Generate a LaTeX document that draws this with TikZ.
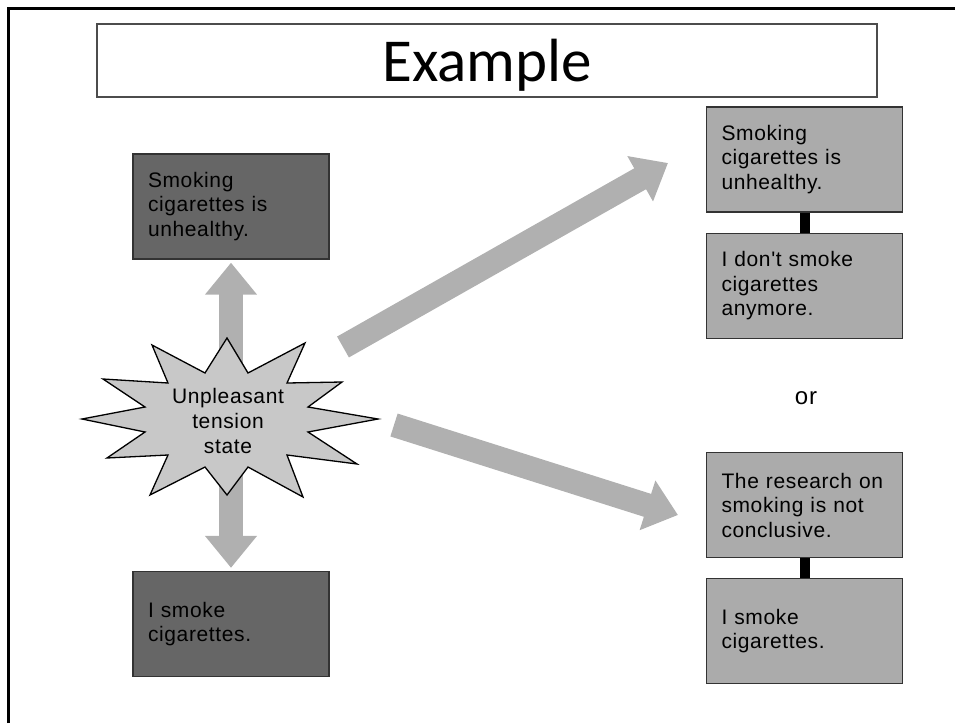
\documentclass[tikz,border=0pt]{standalone}
\usepackage{fontspec}
\setmainfont{Liberation Sans}
\newfontfamily\titlefont{Carlito}
\newfontfamily\boxfont[LetterSpace=3]{Liberation Sans}
\usetikzlibrary{arrows.meta,positioning}
\definecolor{darkbox}{HTML}{666666}
\definecolor{lightbox}{HTML}{ABABAB}
\definecolor{arrowgrey}{HTML}{B0B0B0}
\definecolor{stargrey}{HTML}{C8C8C8}
\tikzset{
  thought/.style={draw=black!80, line width=1.3pt, minimum width=196pt, minimum height=105pt,
    text width=166pt, inner xsep=15pt, inner ysep=0pt, align=left,
    font=\boxfont\fontsize{21}{24.5}\selectfont},
  bigarrow/.style={arrowgrey, line width=24pt, -{Triangle[length=32pt,width=50pt]}},
  link/.style={black, line width=10pt}
}
\begin{document}
\begin{tikzpicture}[x=1pt,y=-1pt]
\useasboundingbox (0,0) rectangle (955,723);
\draw[line width=3pt] (8,723) -- (8,8) -- (955,8);

\node[draw=black!70, line width=1.2pt, minimum width=780pt, minimum height=73pt, text depth=0pt,
  font=\titlefont\fontsize{61}{61}\selectfont] (title) at (487,60.5) {Example};

\node[thought, fill=darkbox] (healthL) at (231,206.5) {Smoking\\cigarettes is\\unhealthy.};
\node[thought, fill=darkbox] (smokeL) at (231,624) {I smoke\\cigarettes.};

\node[thought, fill=lightbox] (healthR) at (804.5,159.5) {Smoking\\cigarettes is\\unhealthy.};
\node[thought, fill=lightbox, below=20pt of healthR] (quit) {I don't smoke\\cigarettes\\anymore.};
\node[thought, fill=lightbox] (research) at (804.5,505) {The research on\\smoking is not\\conclusive.};
\node[thought, fill=lightbox, below=20pt of research] (smokeR) {I smoke\\cigarettes.};

\draw[link] (healthR) -- (quit);
\draw[link] (research) -- (smokeR);

\node[font=\boxfont\fontsize{24}{24}\selectfont] (or) at (806,398) {or};

\coordinate (core) at (231,418);
\coordinate (upfrom) at (343,347);
\coordinate (upto) at (668,163);
\coordinate (downfrom) at (394,425);
\coordinate (downto) at (678,515);

\draw[bigarrow, shorten >=3pt] (core) -- (healthL.south);
\draw[bigarrow, shorten >=3pt] (core) -- (smokeL.north);
\draw[bigarrow] (upfrom) -- (upto);
\draw[bigarrow] (downfrom) -- (downto);

\draw[fill=stargrey, line width=1.3pt] (152,345) -- (205,373) -- (227,338) -- (248,373) -- (305,343)
  -- (287,383) -- (342,382) -- (308,407) -- (378,419) -- (308,432) -- (357,464) -- (287,455)
  -- (303,497) -- (248,467) -- (227,495) -- (205,467) -- (150,495) -- (168,455) -- (107,458)
  -- (145,432) -- (82,419) -- (145,407) -- (103,379) -- (168,383) -- cycle;
\node[font=\boxfont\fontsize{21}{25}\selectfont, align=center] (tension) at (228,421) {Unpleasant\\tension\\state};

\end{tikzpicture}
\end{document}
